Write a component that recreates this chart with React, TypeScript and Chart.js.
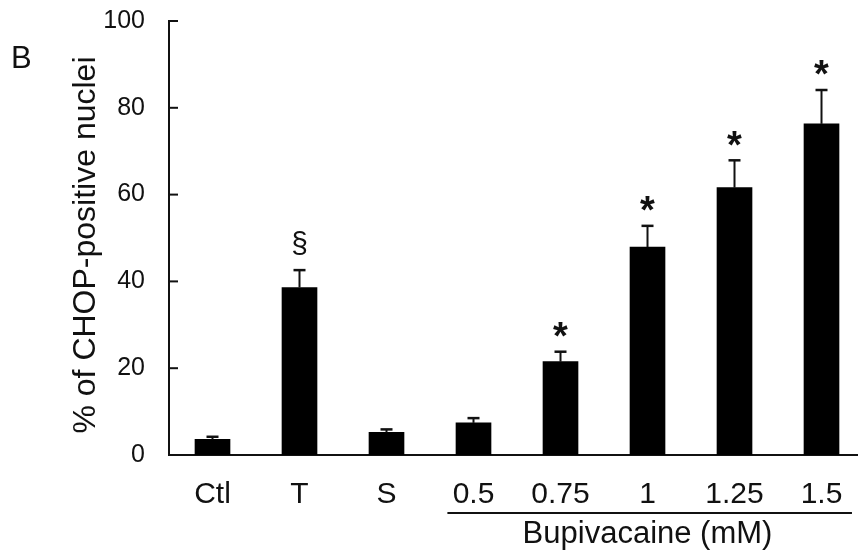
import React, { useEffect, useRef } from 'react';
import { Chart, registerables } from 'chart.js';

Chart.register(...registerables);

const categories: string[] = ['Ctl', 'T', 'S', '0.5', '0.75', '1', '1.25', '1.5'];
const means: number[] = [3.6, 38.6, 5.2, 7.4, 21.5, 47.9, 61.6, 76.3];
const errors: number[] = [0.6, 4.0, 0.7, 1.1, 2.3, 4.9, 6.3, 7.8];
const markers: string[] = ['', '§', '', '', '*', '*', '*', '*'];
const yTicks: number[] = [0, 20, 40, 60, 80, 100];
const groupLabel = 'Bupivacaine (mM)';
const groupFirst = 3;
const groupLast = 7;
const yTitle = '% of CHOP-positive nuclei';
const panelLabel = 'B';

const FONT = '"Liberation Sans", Arial, Helvetica, sans-serif';
const INK = '#111';

const overlayPlugin = {
  id: 'overlay',
  afterDatasetsDraw(chart: any) {
    const ctx = chart.ctx as CanvasRenderingContext2D;
    const xs = chart.scales.x;
    const ys = chart.scales.y;
    const area = chart.chartArea;
    ctx.save();
    ctx.strokeStyle = INK;
    ctx.fillStyle = INK;
    // error bars
    for (let i = 0; i < means.length; i++) {
      const x = xs.getPixelForValue(i);
      const yTop = ys.getPixelForValue(means[i]);
      const yErr = ys.getPixelForValue(means[i] + errors[i]);
      ctx.lineWidth = 2;
      ctx.beginPath();
      ctx.moveTo(x, yTop);
      ctx.lineTo(x, yErr);
      ctx.stroke();
      ctx.lineWidth = 2.5;
      ctx.beginPath();
      ctx.moveTo(x - 6, yErr);
      ctx.lineTo(x + 6, yErr);
      ctx.stroke();
      const m = markers[i];
      if (m) {
        ctx.textAlign = 'center';
        ctx.textBaseline = 'alphabetic';
        if (m === '*') {
          ctx.font = `bold 38px ${FONT}`;
          ctx.fillText(m, x, yErr - 25 + 0.585 * 38);
        } else {
          ctx.font = `30px ${FONT}`;
          ctx.fillText(m, x, yErr - 25 + 0.265 * 30);
        }
      }
    }
    // inward y tick marks
    ctx.lineWidth = 2;
    for (const v of yTicks) {
      const y = ys.getPixelForValue(v);
      ctx.beginPath();
      ctx.moveTo(area.left, y);
      ctx.lineTo(area.left + 9, y);
      ctx.stroke();
    }
    // group underline and label
    const gx0 = xs.getPixelForValue(groupFirst - 0.3);
    const gx1 = xs.getPixelForValue(groupLast + 0.35);
    ctx.lineWidth = 2;
    ctx.beginPath();
    ctx.moveTo(gx0, 513);
    ctx.lineTo(gx1, 513);
    ctx.stroke();
    const gc = (xs.getPixelForValue(groupFirst) + xs.getPixelForValue(groupLast)) / 2;
    ctx.font = `31px ${FONT}`;
    ctx.textAlign = 'center';
    ctx.textBaseline = 'alphabetic';
    ctx.fillText(groupLabel, gc, 543);
    // panel label
    ctx.font = `31px ${FONT}`;
    ctx.textAlign = 'left';
    ctx.fillText(panelLabel, 11, 68);
    // y title
    ctx.save();
    ctx.translate(95, 245);
    ctx.rotate(-Math.PI / 2);
    ctx.font = `32px ${FONT}`;
    ctx.textAlign = 'center';
    ctx.textBaseline = 'alphabetic';
    ctx.fillText(yTitle, 0, 0);
    ctx.restore();
    ctx.restore();
  },
};

export default function App() {
  const ref = useRef<HTMLCanvasElement | null>(null);
  useEffect(() => {
    if (!ref.current) return;
    const chart = new Chart(ref.current, {
      type: 'bar',
      data: {
        datasets: [
          {
            data: means.map((v, i) => ({ x: i, y: v })),
            backgroundColor: '#000',
            borderWidth: 0,
            barThickness: 35,
          },
        ],
      },
      options: {
        responsive: false,
        animation: false,
        devicePixelRatio: 1,
        layout: { padding: { top: 21, right: 2, left: 0, bottom: 0 } },
        plugins: { legend: { display: false }, tooltip: { enabled: false } },
        scales: {
          x: {
            type: 'linear',
            offset: false,
            min: -0.5,
            max: 7.408,
            grid: { display: false, drawTicks: false, offset: false },
            border: { display: true, color: INK, width: 2 },
            afterFit: (s: any) => {
              s.height = 101;
              s.paddingLeft = 0;
              s.paddingRight = 0;
            },
            afterBuildTicks: (s: any) => {
              s.ticks = categories.map((_, i) => ({ value: i }));
            },
            ticks: {
              autoSkip: false,
              maxRotation: 0,
              padding: 22,
              color: INK,
              font: { family: FONT, size: 30 },
              callback: (v: any) => categories[Number(v)] ?? '',
            },
          },
          y: {
            min: 0,
            max: 100,
            grid: { display: false, drawTicks: false },
            border: { display: true, color: INK, width: 2 },
            afterFit: (s: any) => {
              s.width = 169;
              s.paddingTop = 0;
              s.paddingBottom = 0;
            },
            afterBuildTicks: (s: any) => {
              s.ticks = yTicks.map((v) => ({ value: v }));
            },
            ticks: {
              padding: 24,
              color: INK,
              font: { family: FONT, size: 25 },
            },
          },
        },
      },
      plugins: [overlayPlugin],
    });
    return () => chart.destroy();
  }, []);
  return (
    <div style={{ position: 'fixed', left: 0, top: 0, width: 859, height: 556, background: '#fff' }}>
      <canvas ref={ref} width={859} height={556} style={{ display: 'block' }} />
    </div>
  );
}
